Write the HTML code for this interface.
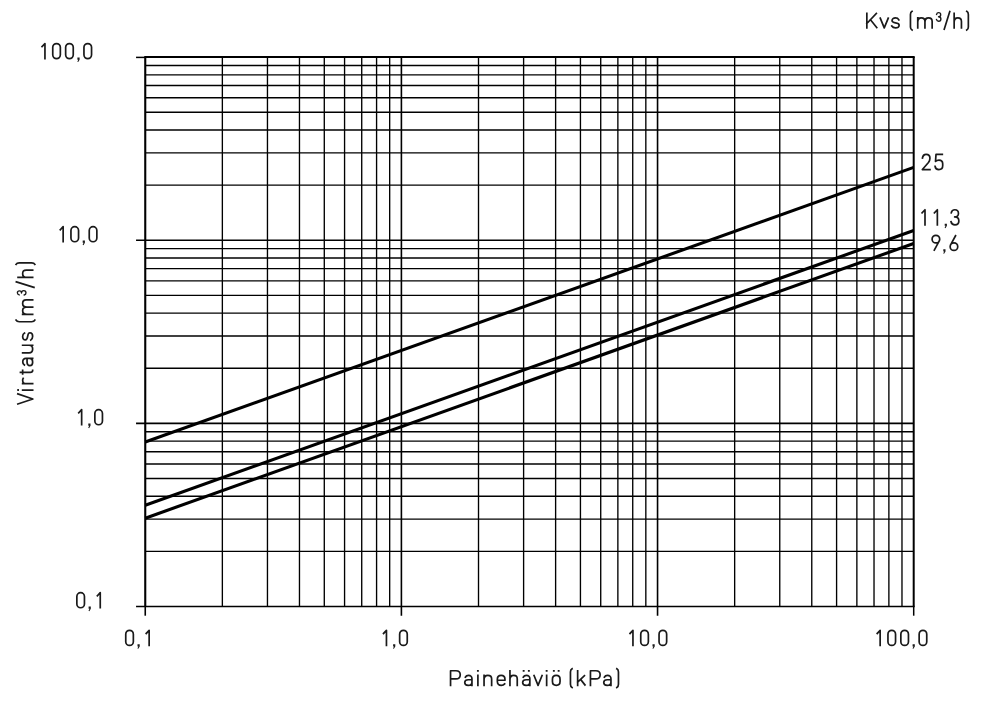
<!DOCTYPE html>
<html><head><meta charset="utf-8"><title>Kvs chart</title>
<style>
html,body{margin:0;padding:0;background:#fff;}
body{width:1000px;height:707px;overflow:hidden;}
svg{display:block;}
text{font-family:"Liberation Sans",sans-serif;font-size:23.7px;fill:#1c1c1c;fill-opacity:0;stroke:none;}
</style></head><body>
<svg width="1000" height="707" viewBox="0 0 1000 707">
<rect width="1000" height="707" fill="#ffffff"/>
<g stroke="#000" stroke-width="1.35" fill="none">
<line x1="222.36" y1="57.1" x2="222.36" y2="606.5"/>
<line x1="145.25" y1="551.37" x2="913.7" y2="551.37"/>
<line x1="267.46" y1="57.1" x2="267.46" y2="606.5"/>
<line x1="145.25" y1="519.12" x2="913.7" y2="519.12"/>
<line x1="299.47" y1="57.1" x2="299.47" y2="606.5"/>
<line x1="145.25" y1="496.24" x2="913.7" y2="496.24"/>
<line x1="324.29" y1="57.1" x2="324.29" y2="606.5"/>
<line x1="145.25" y1="478.50" x2="913.7" y2="478.50"/>
<line x1="344.57" y1="57.1" x2="344.57" y2="606.5"/>
<line x1="145.25" y1="463.99" x2="913.7" y2="463.99"/>
<line x1="361.72" y1="57.1" x2="361.72" y2="606.5"/>
<line x1="145.25" y1="451.73" x2="913.7" y2="451.73"/>
<line x1="376.58" y1="57.1" x2="376.58" y2="606.5"/>
<line x1="145.25" y1="441.11" x2="913.7" y2="441.11"/>
<line x1="389.68" y1="57.1" x2="389.68" y2="606.5"/>
<line x1="145.25" y1="431.75" x2="913.7" y2="431.75"/>
<line x1="478.51" y1="57.1" x2="478.51" y2="606.5"/>
<line x1="145.25" y1="368.24" x2="913.7" y2="368.24"/>
<line x1="523.61" y1="57.1" x2="523.61" y2="606.5"/>
<line x1="145.25" y1="335.99" x2="913.7" y2="335.99"/>
<line x1="555.62" y1="57.1" x2="555.62" y2="606.5"/>
<line x1="145.25" y1="313.11" x2="913.7" y2="313.11"/>
<line x1="580.44" y1="57.1" x2="580.44" y2="606.5"/>
<line x1="145.25" y1="295.36" x2="913.7" y2="295.36"/>
<line x1="600.72" y1="57.1" x2="600.72" y2="606.5"/>
<line x1="145.25" y1="280.86" x2="913.7" y2="280.86"/>
<line x1="617.87" y1="57.1" x2="617.87" y2="606.5"/>
<line x1="145.25" y1="268.60" x2="913.7" y2="268.60"/>
<line x1="632.73" y1="57.1" x2="632.73" y2="606.5"/>
<line x1="145.25" y1="257.98" x2="913.7" y2="257.98"/>
<line x1="645.83" y1="57.1" x2="645.83" y2="606.5"/>
<line x1="145.25" y1="248.61" x2="913.7" y2="248.61"/>
<line x1="734.66" y1="57.1" x2="734.66" y2="606.5"/>
<line x1="145.25" y1="185.10" x2="913.7" y2="185.10"/>
<line x1="779.76" y1="57.1" x2="779.76" y2="606.5"/>
<line x1="145.25" y1="152.86" x2="913.7" y2="152.86"/>
<line x1="811.77" y1="57.1" x2="811.77" y2="606.5"/>
<line x1="145.25" y1="129.98" x2="913.7" y2="129.98"/>
<line x1="836.59" y1="57.1" x2="836.59" y2="606.5"/>
<line x1="145.25" y1="112.23" x2="913.7" y2="112.23"/>
<line x1="856.87" y1="57.1" x2="856.87" y2="606.5"/>
<line x1="145.25" y1="97.73" x2="913.7" y2="97.73"/>
<line x1="874.02" y1="57.1" x2="874.02" y2="606.5"/>
<line x1="145.25" y1="85.47" x2="913.7" y2="85.47"/>
<line x1="888.88" y1="57.1" x2="888.88" y2="606.5"/>
<line x1="145.25" y1="74.85" x2="913.7" y2="74.85"/>
<line x1="901.98" y1="57.1" x2="901.98" y2="606.5"/>
<line x1="145.25" y1="65.48" x2="913.7" y2="65.48"/>
</g>
<g stroke="#000" stroke-width="1.6" fill="none">
<line x1="401.40" y1="57.1" x2="401.40" y2="615.7"/>
<line x1="136.05" y1="423.37" x2="913.7" y2="423.37"/>
<line x1="657.55" y1="57.1" x2="657.55" y2="615.7"/>
<line x1="136.05" y1="240.23" x2="913.7" y2="240.23"/>
</g>
<g stroke="#000" fill="none">
<line x1="144.25" y1="57.0" x2="914.7" y2="57.0" stroke-width="2.1"/>
<line x1="136.05" y1="57.4" x2="145.25" y2="57.4" stroke-width="1.5"/>
<line x1="136.05" y1="606.5" x2="914.7" y2="606.5" stroke-width="1.5"/>
<line x1="145.25" y1="57.1" x2="145.25" y2="606.5" stroke-width="2.1"/>
<line x1="913.7" y1="57.1" x2="913.7" y2="606.5" stroke-width="2.0"/>
<line x1="145.25" y1="606.5" x2="145.25" y2="615.7" stroke-width="1.6"/>
<line x1="913.7" y1="606.5" x2="913.7" y2="615.7" stroke-width="1.5"/>
</g>
<g stroke="#000" stroke-width="3.1" fill="none">
<line x1="145.25" y1="442.06" x2="913.7" y2="167.36"/>
<line x1="145.25" y1="505.21" x2="913.7" y2="230.51"/>
<line x1="145.25" y1="518.18" x2="913.7" y2="243.48"/>
</g>
<g stroke="#1a1a1a" fill="none" stroke-linejoin="round" stroke-linecap="square">
<path transform="translate(41.55,43.55)" d="M0.5,3.1L3.4,0V15.1" stroke-width="1.7"/>
<path transform="translate(52.75,43.55)" d="M0,3.8A3.8,3.8 0 0 1 7.6,3.8V11.3A3.8,3.8 0 0 1 0,11.3Z" stroke-width="1.7"/>
<path transform="translate(65.65,43.55)" d="M0,3.8A3.8,3.8 0 0 1 7.6,3.8V11.3A3.8,3.8 0 0 1 0,11.3Z" stroke-width="1.7"/>
<path transform="translate(77.30,43.55)" d="M0.1,13.9H2.3V16.1L0.9,18.5L0,18.1L1.0,16.1H0.1Z" fill="#1a1a1a" stroke="none"/>
<path transform="translate(83.95,43.55)" d="M0,3.8A3.8,3.8 0 0 1 7.6,3.8V11.3A3.8,3.8 0 0 1 0,11.3Z" stroke-width="1.7"/>
<path transform="translate(59.75,226.65)" d="M0.5,3.1L3.4,0V15.1" stroke-width="1.7"/>
<path transform="translate(70.95,226.65)" d="M0,3.8A3.8,3.8 0 0 1 7.6,3.8V11.3A3.8,3.8 0 0 1 0,11.3Z" stroke-width="1.7"/>
<path transform="translate(82.60,226.65)" d="M0.1,13.9H2.3V16.1L0.9,18.5L0,18.1L1.0,16.1H0.1Z" fill="#1a1a1a" stroke="none"/>
<path transform="translate(89.25,226.65)" d="M0,3.8A3.8,3.8 0 0 1 7.6,3.8V11.3A3.8,3.8 0 0 1 0,11.3Z" stroke-width="1.7"/>
<path transform="translate(78.25,409.65)" d="M0.5,3.1L3.4,0V15.1" stroke-width="1.7"/>
<path transform="translate(88.20,409.65)" d="M0.1,13.9H2.3V16.1L0.9,18.5L0,18.1L1.0,16.1H0.1Z" fill="#1a1a1a" stroke="none"/>
<path transform="translate(94.85,409.65)" d="M0,3.8A3.8,3.8 0 0 1 7.6,3.8V11.3A3.8,3.8 0 0 1 0,11.3Z" stroke-width="1.7"/>
<path transform="translate(76.85,592.65)" d="M0,3.8A3.8,3.8 0 0 1 7.6,3.8V11.3A3.8,3.8 0 0 1 0,11.3Z" stroke-width="1.7"/>
<path transform="translate(88.50,592.65)" d="M0.1,13.9H2.3V16.1L0.9,18.5L0,18.1L1.0,16.1H0.1Z" fill="#1a1a1a" stroke="none"/>
<path transform="translate(96.85,592.65)" d="M0.5,3.1L3.4,0V15.1" stroke-width="1.7"/>
<path transform="translate(125.75,630.35)" d="M0,3.8A3.8,3.8 0 0 1 7.6,3.8V11.3A3.8,3.8 0 0 1 0,11.3Z" stroke-width="1.7"/>
<path transform="translate(137.40,630.35)" d="M0.1,13.9H2.3V16.1L0.9,18.5L0,18.1L1.0,16.1H0.1Z" fill="#1a1a1a" stroke="none"/>
<path transform="translate(145.75,630.35)" d="M0.5,3.1L3.4,0V15.1" stroke-width="1.7"/>
<path transform="translate(383.05,630.35)" d="M0.5,3.1L3.4,0V15.1" stroke-width="1.7"/>
<path transform="translate(393.00,630.35)" d="M0.1,13.9H2.3V16.1L0.9,18.5L0,18.1L1.0,16.1H0.1Z" fill="#1a1a1a" stroke="none"/>
<path transform="translate(399.65,630.35)" d="M0,3.8A3.8,3.8 0 0 1 7.6,3.8V11.3A3.8,3.8 0 0 1 0,11.3Z" stroke-width="1.7"/>
<path transform="translate(629.55,630.35)" d="M0.5,3.1L3.4,0V15.1" stroke-width="1.7"/>
<path transform="translate(640.75,630.35)" d="M0,3.8A3.8,3.8 0 0 1 7.6,3.8V11.3A3.8,3.8 0 0 1 0,11.3Z" stroke-width="1.7"/>
<path transform="translate(652.40,630.35)" d="M0.1,13.9H2.3V16.1L0.9,18.5L0,18.1L1.0,16.1H0.1Z" fill="#1a1a1a" stroke="none"/>
<path transform="translate(659.05,630.35)" d="M0,3.8A3.8,3.8 0 0 1 7.6,3.8V11.3A3.8,3.8 0 0 1 0,11.3Z" stroke-width="1.7"/>
<path transform="translate(876.75,630.35)" d="M0.5,3.1L3.4,0V15.1" stroke-width="1.7"/>
<path transform="translate(887.95,630.35)" d="M0,3.8A3.8,3.8 0 0 1 7.6,3.8V11.3A3.8,3.8 0 0 1 0,11.3Z" stroke-width="1.7"/>
<path transform="translate(900.85,630.35)" d="M0,3.8A3.8,3.8 0 0 1 7.6,3.8V11.3A3.8,3.8 0 0 1 0,11.3Z" stroke-width="1.7"/>
<path transform="translate(912.50,630.35)" d="M0.1,13.9H2.3V16.1L0.9,18.5L0,18.1L1.0,16.1H0.1Z" fill="#1a1a1a" stroke="none"/>
<path transform="translate(919.15,630.35)" d="M0,3.8A3.8,3.8 0 0 1 7.6,3.8V11.3A3.8,3.8 0 0 1 0,11.3Z" stroke-width="1.7"/>
<path transform="translate(922.35,154.45)" d="M0.1,3.5C0.4,1.3 1.8,0 3.8,0C6,0 7.6,1.5 7.6,3.8C7.6,5.6 7,6.8 6.1,8.1L0,15.1H7.6" stroke-width="1.7"/>
<path transform="translate(935.10,154.45)" d="M7.2,0H0.9L0.4,6.9C1.3,6 2.5,5.6 3.9,5.6C6.2,5.6 7.6,7.1 7.6,9.4V11.3C7.6,13.6 6.1,15.1 3.8,15.1C1.7,15.1 0.2,13.9 0,11.9" stroke-width="1.7"/>
<path transform="translate(921.60,209.75)" d="M0.5,3.1L3.4,0V15.1" stroke-width="1.7"/>
<path transform="translate(933.95,209.75)" d="M0.5,3.1L3.4,0V15.1" stroke-width="1.7"/>
<path transform="translate(944.60,209.75)" d="M0.1,13.9H2.3V16.1L0.9,18.5L0,18.1L1.0,16.1H0.1Z" fill="#1a1a1a" stroke="none"/>
<path transform="translate(951.05,209.75)" d="M0.2,3.1C0.6,1.2 1.9,0 3.8,0C5.9,0 7.4,1.5 7.4,3.7C7.4,5.9 6,7.2 3.6,7.2C6.2,7.2 7.8,8.7 7.8,11.2C7.8,13.6 6.2,15.1 3.9,15.1C1.8,15.1 0.4,14 0,12" stroke-width="1.7"/>
<path transform="translate(932.10,235.35)" d="M2.2,14.7L6.9,6M7.6,3.8A3.8,3.8 0 1 0 0,3.8A3.8,3.8 0 1 0 7.6,3.8Z" stroke-width="1.7"/>
<path transform="translate(943.20,235.35)" d="M0.1,13.9H2.3V16.1L0.9,18.5L0,18.1L1.0,16.1H0.1Z" fill="#1a1a1a" stroke="none"/>
<path transform="translate(950.15,235.35)" d="M5.4,0.4L0.7,9.1M0,11.3A3.8,3.8 0 1 0 7.6,11.3A3.8,3.8 0 1 0 0,11.3Z" stroke-width="1.7"/>
</g>
<g stroke="#1a1a1a" fill="none" stroke-linejoin="round" stroke-linecap="square">
<path transform="translate(866.85,27.90)" d="M0,0V-14.6M9.5,-14.4L0,-4.4M3.6,-8.2L9.9,-0.4" stroke-width="1.7"/>
<path transform="translate(880.15,27.90)" d="M0.1,-9.8L4.1,0L8.1,-9.8" stroke-width="1.7"/>
<path transform="translate(891.75,27.90)" d="M7.1,-8.1C6.4,-9.4 5.2,-10 3.7,-10C1.7,-10 0.3,-9 0.3,-7.3C0.3,-5.8 1.3,-5.3 3.7,-5C6.2,-4.7 7.4,-4.1 7.4,-2.7C7.4,-0.9 5.9,0 3.8,0C2.1,0 0.8,-0.6 0,-1.9" stroke-width="1.7"/>
<path transform="translate(910.45,27.90)" d="M1.6,-16.6C0.4,-16 0,-15 0,-13.4V-1C0,0.6 0.4,1.6 1.6,2.2" stroke-width="1.7"/>
<path transform="translate(917.75,27.90)" d="M0,0V-10M0,-6.5C0,-8.8 1.4,-10 3.5,-10C5.8,-10 7.2,-8.8 7.2,-6.5V0M7.2,-6.5C7.2,-8.8 8.6,-10 10.8,-10C13,-10 14.4,-8.8 14.4,-6.5V0" stroke-width="1.7"/>
<path transform="translate(936.47,12.62) scale(0.57)" d="M0.2,3.1C0.6,1.2 1.9,0 3.8,0C5.9,0 7.4,1.5 7.4,3.7C7.4,5.9 6,7.2 3.6,7.2C6.2,7.2 7.8,8.7 7.8,11.2C7.8,13.6 6.2,15.1 3.9,15.1C1.8,15.1 0.4,14 0,12" stroke-width="2.37"/>
<path transform="translate(943.95,27.90)" d="M0.3,1.3L5.8,-16.3" stroke-width="1.7"/>
<path transform="translate(954.15,27.90)" d="M0,0V-14.6M0,-6.4C0,-8.8 1.5,-10 3.7,-10C5.9,-10 7.3,-8.8 7.3,-6.4V0" stroke-width="1.7"/>
<path transform="translate(966.75,27.90)" d="M0,-16.6C1.2,-16 1.6,-15 1.6,-13.4V-1C1.6,0.6 1.2,1.6 0,2.2" stroke-width="1.7"/>
<path transform="translate(450.55,685.35)" d="M0,0V-14.6H5.4C8.2,-14.6 9.7,-13.1 9.7,-10.5C9.7,-7.9 8.2,-6.4 5.4,-6.4H0" stroke-width="1.7"/>
<path transform="translate(464.75,685.35)" d="M0.6,-8.3C1.2,-9.4 2.3,-9.9 3.7,-9.9C6,-9.9 7.2,-8.8 7.2,-6.7V0M7.2,-5.6H3.4C1.2,-5.6 0,-4.6 0,-2.8C0,-1 1.2,0 3.4,0C5.6,0 7.2,-0.9 7.2,-3.2" stroke-width="1.7"/>
<path transform="translate(477.90,685.35)" d="M0,0V-10M-0.1,-14.55H0.1" stroke-width="1.7"/>
<path transform="translate(484.05,685.35)" d="M0,0V-10M0,-6.4C0,-8.8 1.5,-10 3.8,-10C6.1,-10 7.6,-8.8 7.6,-6.4V0" stroke-width="1.7"/>
<path transform="translate(497.35,685.35)" d="M0,-5.1H7.6V-6.2C7.6,-8.6 6.1,-10 3.8,-10C1.5,-10 0,-8.6 0,-6.2V-3.9C0,-1.4 1.5,0 3.9,0C5.4,0 6.5,-0.5 7.3,-1.5" stroke-width="1.7"/>
<path transform="translate(509.95,685.35)" d="M0,0V-14.6M0,-6.4C0,-8.8 1.5,-10 3.7,-10C5.9,-10 7.3,-8.8 7.3,-6.4V0" stroke-width="1.7"/>
<path transform="translate(522.65,685.35)" d="M0.6,-8.3C1.2,-9.4 2.3,-9.9 3.7,-9.9C6,-9.9 7.2,-8.8 7.2,-6.7V0M7.2,-5.6H3.4C1.2,-5.6 0,-4.6 0,-2.8C0,-1 1.2,0 3.4,0C5.6,0 7.2,-0.9 7.2,-3.2M0.9,-14.5H1.1M6.1,-14.5H6.3" stroke-width="1.7"/>
<path transform="translate(533.95,685.35)" d="M0.1,-9.8L4.1,0L8.1,-9.8" stroke-width="1.7"/>
<path transform="translate(546.65,685.35)" d="M0,0V-10M-0.1,-14.55H0.1" stroke-width="1.7"/>
<path transform="translate(552.45,685.35)" d="M0,-3.8V-6.2C0,-8.6 1.5,-10 3.8,-10C6.1,-10 7.6,-8.6 7.6,-6.2V-3.8C7.6,-1.4 6.1,0 3.8,0C1.5,0 0,-1.4 0,-3.8ZM1.3,-14.5H1.5M6.1,-14.5H6.3" stroke-width="1.7"/>
<path transform="translate(570.45,685.35)" d="M1.6,-16.6C0.4,-16 0,-15 0,-13.4V-1C0,0.6 0.4,1.6 1.6,2.2" stroke-width="1.7"/>
<path transform="translate(577.65,685.35)" d="M0,0V-14.6M6.8,-9.7L0,-3.2M2.9,-6L7.3,-0.4" stroke-width="1.7"/>
<path transform="translate(590.45,685.35)" d="M0,0V-14.6H5.4C8.2,-14.6 9.7,-13.1 9.7,-10.5C9.7,-7.9 8.2,-6.4 5.4,-6.4H0" stroke-width="1.7"/>
<path transform="translate(603.75,685.35)" d="M0.6,-8.3C1.2,-9.4 2.3,-9.9 3.7,-9.9C6,-9.9 7.2,-8.8 7.2,-6.7V0M7.2,-5.6H3.4C1.2,-5.6 0,-4.6 0,-2.8C0,-1 1.2,0 3.4,0C5.6,0 7.2,-0.9 7.2,-3.2" stroke-width="1.7"/>
<path transform="translate(616.85,685.35)" d="M0,-16.6C1.2,-16 1.6,-15 1.6,-13.4V-1C1.6,0.6 1.2,1.6 0,2.2" stroke-width="1.7"/>
<g transform="translate(33.5,405.0) rotate(-90)">
<path transform="translate(0.85,-0.85)" d="M0.2,-14.8L5.2,0.2L10.2,-14.8" stroke-width="1.7"/>
<path transform="translate(14.95,-0.85)" d="M0,0V-10M-0.1,-14.55H0.1" stroke-width="1.7"/>
<path transform="translate(21.35,-0.85)" d="M0,0V-10M0,-6.6C0,-8.8 1.5,-10 3.5,-10C4.2,-10 4.8,-9.8 5.3,-9.5" stroke-width="1.7"/>
<path transform="translate(31.05,-0.85)" d="M1.5,-12.2V-2.3C1.5,-0.7 2.2,0 3.4,0H3.7M0,-10H3.7" stroke-width="1.7"/>
<path transform="translate(39.35,-0.85)" d="M0.6,-8.3C1.2,-9.4 2.3,-9.9 3.7,-9.9C6,-9.9 7.2,-8.8 7.2,-6.7V0M7.2,-5.6H3.4C1.2,-5.6 0,-4.6 0,-2.8C0,-1 1.2,0 3.4,0C5.6,0 7.2,-0.9 7.2,-3.2" stroke-width="1.7"/>
<path transform="translate(52.15,-0.85)" d="M0,-10V-3.6C0,-1.2 1.5,0 3.8,0C6.1,0 7.6,-1.2 7.6,-3.6M7.6,-10V0" stroke-width="1.7"/>
<path transform="translate(64.85,-0.85)" d="M7.1,-8.1C6.4,-9.4 5.2,-10 3.7,-10C1.7,-10 0.3,-9 0.3,-7.3C0.3,-5.8 1.3,-5.3 3.7,-5C6.2,-4.7 7.4,-4.1 7.4,-2.7C7.4,-0.9 5.9,0 3.8,0C2.1,0 0.8,-0.6 0,-1.9" stroke-width="1.7"/>
<path transform="translate(83.25,-0.85)" d="M1.6,-16.6C0.4,-16 0,-15 0,-13.4V-1C0,0.6 0.4,1.6 1.6,2.2" stroke-width="1.7"/>
<path transform="translate(90.65,-0.85)" d="M0,0V-10M0,-6.5C0,-8.8 1.4,-10 3.5,-10C5.8,-10 7.2,-8.8 7.2,-6.5V0M7.2,-6.5C7.2,-8.8 8.6,-10 10.8,-10C13,-10 14.4,-8.8 14.4,-6.5V0" stroke-width="1.7"/>
<path transform="translate(109.97,-16.12) scale(0.57)" d="M0.2,3.1C0.6,1.2 1.9,0 3.8,0C5.9,0 7.4,1.5 7.4,3.7C7.4,5.9 6,7.2 3.6,7.2C6.2,7.2 7.8,8.7 7.8,11.2C7.8,13.6 6.2,15.1 3.9,15.1C1.8,15.1 0.4,14 0,12" stroke-width="2.37"/>
<path transform="translate(117.35,-0.85)" d="M0.3,1.3L5.8,-16.3" stroke-width="1.7"/>
<path transform="translate(127.65,-0.85)" d="M0,0V-14.6M0,-6.4C0,-8.8 1.5,-10 3.7,-10C5.9,-10 7.3,-8.8 7.3,-6.4V0" stroke-width="1.7"/>
<path transform="translate(140.55,-0.85)" d="M0,-16.6C1.2,-16 1.6,-15 1.6,-13.4V-1C1.6,0.6 1.2,1.6 0,2.2" stroke-width="1.7"/>
</g>
</g>
<g aria-label="chart labels">
<text x="865.6" y="28.7" textLength="104.4" lengthAdjust="spacingAndGlyphs">Kvs (m³/h)</text>
<text x="38.5" y="59.4" textLength="54" lengthAdjust="spacingAndGlyphs">100,0</text>
<text x="56" y="242.2" textLength="42" lengthAdjust="spacingAndGlyphs">10,0</text>
<text x="75" y="425.3" textLength="29.5" lengthAdjust="spacingAndGlyphs">1,0</text>
<text x="75" y="608.5" textLength="29.5" lengthAdjust="spacingAndGlyphs">0,1</text>
<text x="124" y="646.1" textLength="29.5" lengthAdjust="spacingAndGlyphs">0,1</text>
<text x="380" y="646.1" textLength="29.5" lengthAdjust="spacingAndGlyphs">1,0</text>
<text x="626.5" y="646.1" textLength="42" lengthAdjust="spacingAndGlyphs">10,0</text>
<text x="873.5" y="646.1" textLength="54" lengthAdjust="spacingAndGlyphs">100,0</text>
<text x="449.3" y="685.7" textLength="170.8" lengthAdjust="spacingAndGlyphs">Painehäviö (kPa)</text>
<text x="920.5" y="170.4" textLength="23" lengthAdjust="spacingAndGlyphs">25</text>
<text x="919.5" y="225.5" textLength="42" lengthAdjust="spacingAndGlyphs">11,3</text>
<text x="930.5" y="251.3" textLength="28.5" lengthAdjust="spacingAndGlyphs">9,6</text>
<text transform="translate(33.3,404.5) rotate(-90)" textLength="143" lengthAdjust="spacingAndGlyphs">Virtaus (m³/h)</text>
</g>
</svg>
</body></html>
